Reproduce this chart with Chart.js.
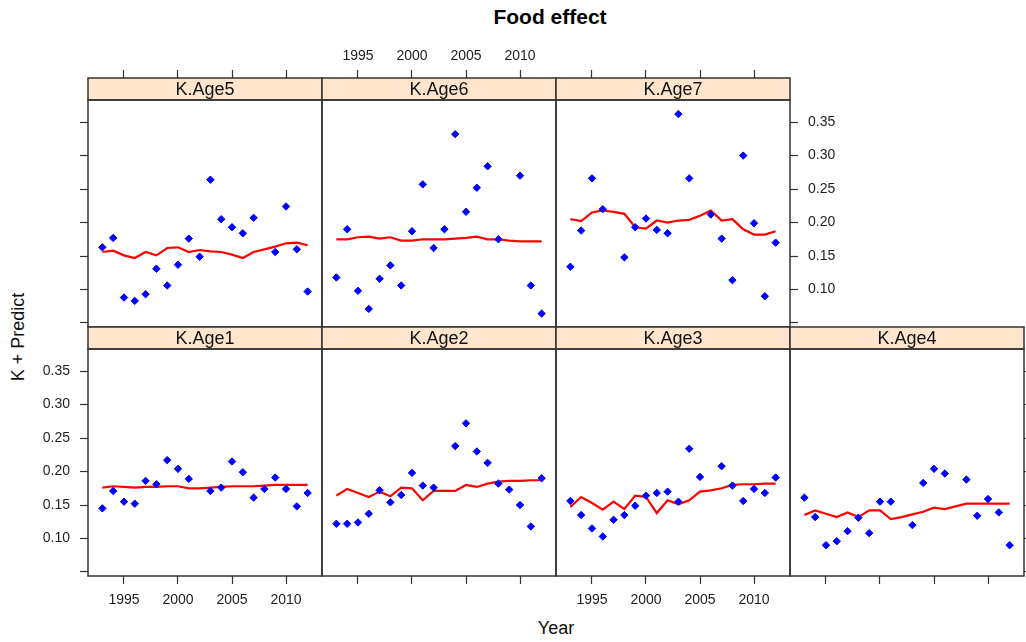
<!DOCTYPE html>
<html>
<head>
<meta charset="utf-8">
<title>Food effect</title>
<script src="https://cdn.jsdelivr.net/npm/chart.js@4.4.1/dist/chart.umd.min.js"></script>
<style>
  body { margin: 0; background: #fff; font-family: "Liberation Sans", Arial, sans-serif; }
  #page { position: relative; width: 1026px; height: 642px; overflow: hidden; background: #fff; }
  .panel { position: absolute; }
  #title { position: absolute; left: 400px; width: 300px; top: 5px; text-align: center; font-weight: bold; font-size: 21px; color: #000; }
  #ytitle { position: absolute; left: 18px; top: 337px; transform: translate(-50%, -50%) rotate(-90deg); font-size: 18px; white-space: nowrap; color: #111; }
  #xtitle { position: absolute; left: 456px; width: 200px; top: 618px; text-align: center; font-size: 18px; color: #111; }
</style>
</head>
<body>
<div id="page">
  <div id="title">Food effect</div>
  <div id="ytitle">K + Predict</div>
  <div id="xtitle">Year</div>
</div>
<script>
// data
const years = [1993, 1994, 1995, 1996, 1997, 1998, 1999, 2000, 2001, 2002,
               2003, 2004, 2005, 2006, 2007, 2008, 2009, 2010, 2011, 2012];

const age1Obs  = [0.145, 0.171, 0.155, 0.152, 0.186, 0.181, 0.217, 0.204, 0.189, null, 0.171, 0.176, 0.215, 0.199, 0.161, 0.174, 0.191, 0.174, 0.148, 0.168];
const age1Pred = [0.176, 0.178, 0.177, 0.176, 0.177, 0.177, 0.178, 0.178, 0.175, 0.175, 0.176, 0.177, 0.178, 0.178, 0.178, 0.179, 0.180, 0.180, 0.180, 0.180];

const age2Obs  = [0.122, 0.122, 0.124, 0.137, 0.172, 0.154, 0.165, 0.198, 0.179, 0.176, null, 0.238, 0.272, 0.230, 0.213, 0.182, 0.173, 0.150, 0.118, 0.190];
const age2Pred = [0.164, 0.174, 0.168, 0.162, 0.170, 0.163, 0.176, 0.175, 0.157, 0.171, 0.171, 0.171, 0.180, 0.177, 0.182, 0.185, 0.186, 0.186, 0.187, 0.187];

const age3Obs  = [0.156, 0.135, 0.115, 0.103, 0.128, 0.135, 0.149, 0.164, 0.168, 0.170, 0.155, 0.234, 0.192, null, 0.208, 0.179, 0.156, 0.174, 0.168, 0.191];
const age3Pred = [0.147, 0.162, 0.153, 0.143, 0.155, 0.144, 0.164, 0.162, 0.138, 0.157, 0.151, 0.157, 0.170, 0.172, 0.175, 0.180, 0.181, 0.181, 0.182, 0.182];

const age4Obs  = [0.161, 0.132, 0.090, 0.096, 0.111, 0.131, 0.108, 0.155, 0.155, null, 0.120, 0.183, 0.204, 0.197, null, 0.188, 0.134, 0.159, 0.139, 0.090];
const age4Pred = [0.135, 0.142, 0.137, 0.132, 0.139, 0.132, 0.142, 0.142, 0.129, 0.132, 0.136, 0.140, 0.146, 0.144, 0.148, 0.152, 0.152, 0.152, 0.152, 0.152];

const age5Obs  = [0.163, 0.177, 0.088, 0.083, 0.093, 0.131, 0.106, 0.137, 0.176, 0.149, 0.264, 0.205, 0.193, 0.184, 0.207, null, 0.156, 0.224, 0.160, 0.097];
const age5Pred = [0.156, 0.158, 0.151, 0.147, 0.156, 0.151, 0.162, 0.163, 0.156, 0.159, 0.157, 0.156, 0.152, 0.147, 0.156, 0.160, 0.164, 0.169, 0.170, 0.166];

const age6Obs  = [0.118, 0.190, 0.098, 0.071, 0.116, 0.136, 0.106, 0.187, 0.257, 0.162, 0.190, 0.332, 0.216, 0.252, 0.284, 0.175, null, 0.270, 0.106, 0.064];
const age6Pred = [0.175, 0.175, 0.178, 0.179, 0.176, 0.178, 0.173, 0.173, 0.175, 0.175, 0.175, 0.176, 0.177, 0.179, 0.175, 0.175, 0.173, 0.172, 0.172, 0.172];

const age7Obs  = [0.134, 0.188, 0.266, 0.220, null, 0.148, 0.193, 0.206, 0.189, 0.184, 0.362, 0.266, null, 0.212, 0.176, 0.114, 0.300, 0.199, 0.090, 0.170];
const age7Pred = [0.205, 0.202, 0.215, 0.218, 0.216, 0.213, 0.193, 0.191, 0.203, 0.200, 0.203, 0.204, 0.210, 0.218, 0.203, 0.205, 0.190, 0.182, 0.182, 0.187];

const xTicks = [1995, 2000, 2005, 2010];
const yTicks = [0.05, 0.10, 0.15, 0.20, 0.25, 0.30, 0.35];
const xRange = [1991.67, 2013.33];
const yRange = [0.044, 0.383];

// lattice layout: 0 = no axis, 1 = ticks only, 2 = ticks + labels
const panels = [
    { name: 'K.Age5', obs: age5Obs, pred: age5Pred, row: 0, col: 0, left: 1, right: 0, top: 1, bottom: 0 },
    { name: 'K.Age6', obs: age6Obs, pred: age6Pred, row: 0, col: 1, left: 0, right: 0, top: 2, bottom: 0 },
    { name: 'K.Age7', obs: age7Obs, pred: age7Pred, row: 0, col: 2, left: 0, right: 2, top: 1, bottom: 0 },
    { name: 'K.Age1', obs: age1Obs, pred: age1Pred, row: 1, col: 0, left: 2, right: 0, top: 0, bottom: 2 },
    { name: 'K.Age2', obs: age2Obs, pred: age2Pred, row: 1, col: 1, left: 0, right: 0, top: 0, bottom: 1 },
    { name: 'K.Age3', obs: age3Obs, pred: age3Pred, row: 1, col: 2, left: 0, right: 0, top: 0, bottom: 2 },
    { name: 'K.Age4', obs: age4Obs, pred: age4Pred, row: 1, col: 3, left: 0, right: 1, top: 0, bottom: 1 }
];

const colLeft = [88, 322, 556, 790];
const rowStripTop = [78, 327];
const panelW = 234, plotH = 227, stripH = 22;
const marginSide = 60, marginTop = 45, marginBottom = 45;
const tickLen = 8;
const lineColor = '#333';
const textColor = '#1e1e1e';

Chart.defaults.font.family = '"Liberation Sans", Arial, sans-serif';
Chart.defaults.font.size = 14;
Chart.defaults.color = textColor;
Chart.defaults.animation = false;

// strip and box round each panel
const panelFrame = {
    id: 'panelFrame',
    afterDraw(chart, args, opts) {
        const ctx = chart.ctx;
        const a = chart.chartArea;
        ctx.save();
        ctx.fillStyle = '#FFE5CC';
        ctx.fillRect(a.left, a.top - stripH, a.right - a.left, stripH);
        ctx.strokeStyle = lineColor;
        ctx.lineWidth = 1.5;
        ctx.strokeRect(a.left, a.top - stripH, a.right - a.left, stripH);
        ctx.strokeRect(a.left, a.top, a.right - a.left, a.bottom - a.top);
        ctx.fillStyle = '#111';
        ctx.font = '18px "Liberation Sans", Arial, sans-serif';
        ctx.textAlign = 'center';
        ctx.textBaseline = 'middle';
        ctx.fillText(opts.title, (a.left + a.right) / 2, a.top - stripH / 2 + 1);
        ctx.restore();
    }
};

function xAxis(position, mode) {
    const isTop = position === 'top';
    return {
        type: 'linear',
        position: position,
        min: xRange[0],
        max: xRange[1],
        afterBuildTicks: s => { s.ticks = xTicks.map(v => ({ value: v })); },
        afterFit: s => { s.height = isTop ? marginTop + stripH : marginBottom; },
        grid: {
            drawOnChartArea: false,
            drawTicks: mode > 0,
            tickLength: isTop ? stripH + tickLen : tickLen,
            tickColor: lineColor,
            tickWidth: 1.2
        },
        border: { display: false },
        ticks: {
            display: mode === 2,
            padding: isTop ? 5 : 8,
            maxRotation: 0,
            autoSkip: false,
            callback: v => String(v)
        }
    };
}

function yAxis(position, mode) {
    return {
        type: 'linear',
        position: position,
        min: yRange[0],
        max: yRange[1],
        afterBuildTicks: s => { s.ticks = yTicks.map(v => ({ value: v })); },
        afterFit: s => { s.width = marginSide; },
        grid: {
            drawOnChartArea: false,
            drawTicks: mode > 0,
            tickLength: tickLen,
            tickColor: lineColor,
            tickWidth: 1.2
        },
        border: { display: false },
        ticks: {
            display: mode === 2,
            padding: 10,
            autoSkip: false,
            callback: v => v < 0.075 ? '' : v.toFixed(2)
        }
    };
}

const page = document.getElementById('page');

panels.forEach(p => {
    const div = document.createElement('div');
    div.className = 'panel';
    const w = panelW + 2 * marginSide;
    const h = marginTop + stripH + plotH + marginBottom;
    div.style.left = (colLeft[p.col] - marginSide) + 'px';
    div.style.top = (rowStripTop[p.row] - marginTop) + 'px';
    div.style.width = w + 'px';
    div.style.height = h + 'px';
    const canvas = document.createElement('canvas');
    canvas.width = w;
    canvas.height = h;
    div.appendChild(canvas);
    page.appendChild(div);

    new Chart(canvas.getContext('2d'), {
        type: 'scatter',
        data: {
            datasets: [
                {
                    label: 'K',
                    data: years.map((yr, i) => ({ x: yr, y: p.obs[i] })),
                    pointStyle: 'rectRot',
                    pointRadius: 3.7,
                    pointBackgroundColor: '#0000FF',
                    pointBorderColor: '#0000FF',
                    pointBorderWidth: 1,
                    showLine: false,
                    order: 1
                },
                {
                    label: 'Predict',
                    type: 'line',
                    data: years.map((yr, i) => ({ x: yr, y: p.pred[i] })),
                    borderColor: '#FF0000',
                    borderWidth: 2.2,
                    pointRadius: 0,
                    tension: 0,
                    fill: false,
                    order: 2
                }
            ]
        },
        options: {
            responsive: false,
            devicePixelRatio: 1,
            layout: { padding: 0 },
            plugins: {
                legend: { display: false },
                tooltip: { enabled: false },
                panelFrame: { title: p.name }
            },
            scales: {
                x: xAxis('bottom', p.bottom),
                x2: xAxis('top', p.top),
                y: yAxis('left', p.left),
                y2: yAxis('right', p.right)
            }
        },
        plugins: [panelFrame]
    });
});
</script>
</body>
</html>
